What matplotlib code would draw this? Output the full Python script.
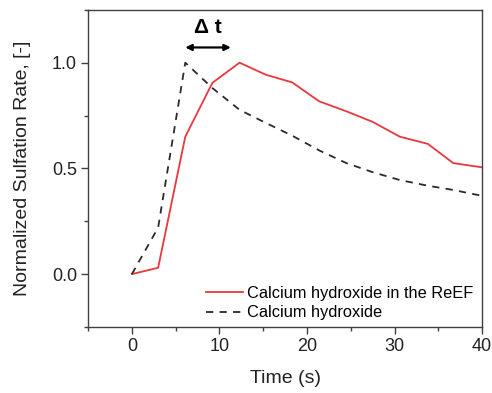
import matplotlib
matplotlib.use("Agg")
from matplotlib import pyplot as plt
from matplotlib.ticker import MultipleLocator

plt.rcParams['font.family'] = ['Liberation Sans', 'DejaVu Sans']

# Calcium hydroxide in the ReEF
tiempoReef = [0, 3.0, 6.1, 9.2, 12.3, 15.3, 18.3, 21.4, 24.5, 27.5, 30.6, 33.8, 36.7, 40.0]
tasaReef = [0.0, 0.03, 0.65, 0.905, 1.0, 0.943, 0.907, 0.817, 0.77, 0.72, 0.65, 0.616, 0.525, 0.505]

# Calcium hydroxide
tiempoCa = [0, 3.0, 6.1, 9.2, 12.3, 15.3, 18.3, 21.4, 24.5, 27.5, 30.6, 33.8, 36.7, 40.0]
tasaCa = [0.0, 0.22, 1.0, 0.88, 0.777, 0.715, 0.655, 0.585, 0.525, 0.482, 0.445, 0.418, 0.398, 0.37]

fig = plt.figure(figsize=(4.92, 3.93), dpi=100)
ax = fig.add_axes([0.179, 0.168, 0.801, 0.807])

ax.plot(tiempoReef, tasaReef, color='#e8383d', lw=1.3, label='Calcium hydroxide in the ReEF')
ax.plot(tiempoCa, tasaCa, color='#2a2a2a', lw=1.3, dashes=(4, 3.5), label='Calcium hydroxide')

ax.set_xlim(-5, 40)
ax.set_ylim(-0.25, 1.25)
ax.xaxis.set_major_locator(MultipleLocator(10))
ax.xaxis.set_minor_locator(MultipleLocator(5))
ax.yaxis.set_major_locator(MultipleLocator(0.5))
ax.yaxis.set_minor_locator(MultipleLocator(0.25))
ax.yaxis.set_major_formatter(lambda v, p: f"{v:.1f}")

for s in ax.spines.values():
    s.set_color('#404040')
    s.set_linewidth(1.0)
ax.tick_params(which='major', direction='out', length=5, width=1, color='#404040',
               labelsize=13, labelcolor='#222222', pad=3)
ax.tick_params(which='minor', direction='out', length=3, width=1, color='#404040')

ax.set_xlabel('Time (s)', fontsize=14, color='#222222', labelpad=11)
ax.set_ylabel('Normalized Sulfation Rate, [-]', fontsize=14, color='#222222', labelpad=15)

# flecha de desfase entre los picos
ax.annotate('', xy=(6.1, 1.072), xytext=(11.3, 1.072),
            arrowprops=dict(arrowstyle='<|-|>', color='black', lw=1.6,
                            mutation_scale=9, shrinkA=0, shrinkB=0))
ax.text(8.7, 1.165, 'Δ t', ha='center', va='center',
        fontsize=15, fontweight='bold')

ax.legend(loc='lower right', frameon=False, fontsize=11.8, handlelength=2.3,
          handletextpad=0.25, labelspacing=0.28, borderaxespad=0.0,
          bbox_to_anchor=(0.995, 0.0))

plt.savefig('out.png', dpi=100)
plt.close()
